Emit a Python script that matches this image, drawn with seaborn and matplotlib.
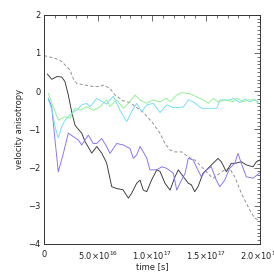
import numpy as np
import pandas as pd
import matplotlib
matplotlib.use("Agg")
import matplotlib.pyplot as plt
from matplotlib.ticker import MultipleLocator, FixedLocator
import seaborn as sns

# time in units of 1e16 s
t_dash = [0, 0.86, 1.48, 1.79, 2.41, 2.71, 3.03, 3.8, 4.56, 5.19, 5.49, 6.11, 6.57, 7.31, 7.96,
          9.17, 10.09, 10.74, 11.2, 11.67, 12.13, 12.75, 13.36, 13.95, 14.72, 15.34, 15.65, 16.27,
          16.73, 17.19, 17.66, 18.27, 19.05, 19.51, 20.0]
y_dash = [0.93, 0.87, 0.81, 0.73, 0.55, 0.33, 0.2, 0.16, 0.12, 0.12, 0.16, 0.07, -0.1, -0.25, -0.3,
          -0.55, -0.84, -1.1, -1.37, -1.54, -1.59, -1.59, -1.72, -1.8, -2.02, -2.2, -2.28, -2.15,
          -2.06, -2.02, -2.24, -2.67, -3.11, -3.33, -3.38]

t_black = [0.3, 0.71, 1.2, 1.64, 1.94, 2.25, 2.56, 2.87, 3.18, 3.49, 3.8, 4.42, 4.88, 5.34, 5.8,
           6.27, 6.73, 7.31, 7.81, 8.12, 8.58, 8.89, 9.19, 9.51, 9.97, 10.44, 10.74, 11.2, 11.67,
           12.13, 12.44, 12.9, 13.36, 13.64, 13.95, 14.26, 14.72, 15.19, 15.65, 16.11, 16.42,
           16.88, 17.34, 17.66, 18.27, 18.73, 19.35, 19.66, 20.0]
y_black = [0.45, 0.31, 0.38, 0.37, 0.25, -0.1, -0.54, -0.89, -1.0, -1.1, -1.32, -1.62, -1.45, -1.62,
           -1.88, -2.5, -2.55, -2.58, -2.8, -2.67, -2.41, -2.33, -2.59, -2.63, -2.32, -2.06, -2.1,
           -2.41, -2.59, -2.24, -2.06, -2.24, -2.41, -2.45, -2.63, -2.5, -2.15, -2.02, -1.89, -1.76,
           -1.85, -2.11, -1.89, -1.89, -1.85, -1.93, -1.98, -1.85, -1.8]

t_blue = [0.4, 0.71, 1.02, 1.32, 1.79, 2.25, 2.71, 3.18, 3.49, 4.1, 4.56, 4.88, 5.34, 5.8, 6.11,
          6.73, 7.34, 7.96, 8.27, 8.58, 8.89, 9.19, 9.51, 9.81, 10.44, 10.9, 11.36, 11.97, 12.29,
          12.59, 13.06, 13.36, 13.8, 14.1, 14.56, 15.03, 15.49, 15.95, 16.27, 16.73, 17.19, 17.66,
          17.96, 18.27, 18.73, 19.35, 20.0]
y_blue = [-0.19, -0.41, -1.28, -2.11, -1.63, -1.1, -1.19, -1.28, -1.41, -1.15, -1.37, -1.37, -1.24,
          -1.45, -1.63, -1.37, -1.41, -1.5, -1.76, -1.67, -1.45, -1.59, -1.75, -2.06, -2.06, -1.98,
          -2.02, -2.15, -2.59, -2.41, -2.15, -1.76, -1.8, -1.98, -2.24, -2.06, -1.98, -2.33, -2.5,
          -2.33, -2.02, -1.89, -1.63, -1.89, -2.24, -2.28, -2.13]

t_cyan = [0.37, 0.74, 1.02, 1.32, 1.64, 1.94, 2.71, 3.03, 3.49, 3.95, 4.26, 4.88, 5.8, 6.42, 7.04,
          7.66, 8.27, 8.58, 9.05, 9.51, 10.12, 10.74, 11.36, 11.97, 12.9, 13.36, 13.8, 14.6, 15.99,
          16.3, 17.22, 17.53, 18.15, 18.61, 19.07, 19.54, 19.84]
y_cyan = [-0.2, -0.5, -0.93, -1.22, -0.93, -0.76, -0.54, -0.5, -0.36, -0.32, -0.41, -0.19, -0.34,
          -0.13, -0.5, -0.8, -0.45, -0.32, -0.54, -0.36, -0.32, -0.56, -0.36, -0.43, -0.42, -0.23,
          -0.28, -0.45, -0.45, -0.23, -0.23, -0.19, -0.3, -0.21, -0.28, -0.22, -0.32]

t_green = [0.4, 0.86, 1.32, 1.94, 2.41, 2.87, 3.33, 3.95, 4.56, 5.19, 5.8, 6.11, 6.73, 7.34, 7.81,
           8.43, 8.89, 9.51, 10.12, 10.74, 11.36, 11.67, 12.29, 12.75, 13.52, 14.14, 14.75, 15.21,
           15.68, 16.14, 16.82, 17.53, 17.84, 18.45, 18.92, 19.38, 19.84]
y_green = [-0.06, -0.41, -0.76, -0.67, -0.71, -0.45, -0.5, -0.41, -0.5, -0.41, -0.23, -0.4, -0.23,
           -0.45, -0.32, -0.1, -0.23, -0.32, -0.23, -0.28, -0.19, -0.28, -0.1, -0.04, -0.07, -0.15,
           -0.23, -0.32, -0.19, -0.28, -0.23, -0.28, -0.19, -0.28, -0.23, -0.23, -0.28]

xtick_vals = [0, 5e16, 1e17, 1.5e17, 2e17]
xtick_labels = ["0", r"5.0$\times$10$^{16}$", r"1.0$\times$10$^{17}$",
                r"1.5$\times$10$^{17}$", r"2.0$\times$10$^{17}$"]
ytick_vals = [-4, -3, -2, -1, 0, 1, 2]

sns.set_style("white")
plt.rcParams["font.family"] = ["DejaVu Sans"]
plt.rcParams["mathtext.default"] = "regular"

fig = plt.figure(figsize=(2.74, 2.74), dpi=100)
ax = fig.add_axes([0.1606, 0.1095, 0.7884, 0.8369])

series = [
    (t_dash, y_dash, "#8a8a8a", (0, (3.5, 2.5))),
    (t_black, y_black, "#353535", "-"),
    (t_blue, y_blue, "#8070f0", "-"),
    (t_cyan, y_cyan, "#70dcf8", "-"),
    (t_green, y_green, "#90f090", "-"),
]
for t, y, c, ls in series:
    df = pd.DataFrame({"time": np.array(t) * 1e16, "val": y})
    sns.lineplot(data=df, x="time", y="val", ax=ax, color=c, linewidth=0.65,
                 sort=False, estimator=None, linestyle=ls)

ax.set_xlim(0, 2e17)
ax.set_ylim(-4, 2)
ax.xaxis.set_major_locator(FixedLocator(xtick_vals))
ax.set_xticklabels(xtick_labels)
ax.xaxis.set_minor_locator(MultipleLocator(1e16))
ax.yaxis.set_major_locator(FixedLocator(ytick_vals))
ax.set_yticklabels([("\u2212" + str(-v)) if v < 0 else str(v) for v in ytick_vals])
ax.yaxis.set_minor_locator(MultipleLocator(0.1))
ax.tick_params(which="both", direction="in", top=True, right=True, color="#333333",
               width=0.5, labelsize=6, colors="#222222")
ax.tick_params(which="major", length=4)
ax.tick_params(axis="x", which="major", pad=4)
ax.tick_params(axis="y", which="major", pad=2.5)
ax.tick_params(which="minor", length=2)
for s in ax.spines.values():
    s.set_linewidth(0.7)
    s.set_color("#333333")
ax.set_xlabel("time [s]", fontsize=6, labelpad=0)
ax.set_ylabel("velocity anisotropy", fontsize=6, labelpad=3)

fig.savefig("out.png", dpi=100)
